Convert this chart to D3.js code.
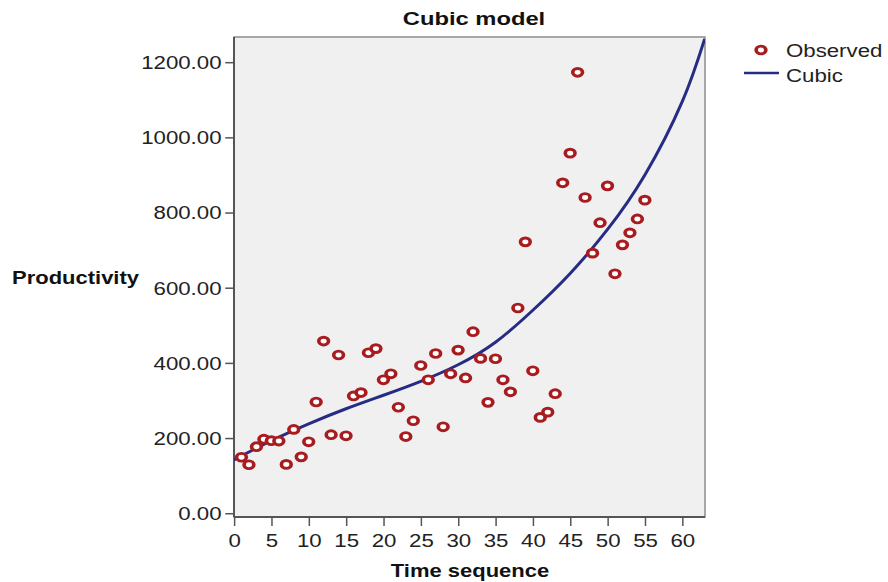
<!DOCTYPE html>
<html><head><meta charset="utf-8">
<script src="https://cdn.jsdelivr.net/npm/d3@7"></script>
<style>html,body{margin:0;padding:0;background:#fff;overflow:hidden;}</style>
</head><body>
<svg id="c" width="888" height="582"></svg>
<script>
// ---- data ----
const time = [1,2,3,4,5,6,7,8,9,10,11,12,13,14,15,16,17,18,19,20,21,22,23,24,25,26,27,28,29,30,31,32,33,34,35,36,37,38,39,40,41,42,43,44,45,46,47,48,49,50,51,52,53,54,55];
const productivity = [149,129,177,197,193,192,130,223,150,190,296,458,209,421,206,312,321,427,438,355,371,282,204,246,393,355,425,230,371,434,360,483,412,295,411,355,323,546,722,379,255,269,318,879,958,1173,840,692,773,871,637,714,746,783,833];
const cubicTime = [0,5,10,15,20,25,30,35,40,45,50,55,60,63];
const cubicValue = [142,193,238,278,314,351,395,455,540,638,755,900,1095,1262];
const yTicks = [0,200,400,600,800,1000,1200];
const xTicks = [0,5,10,15,20,25,30,35,40,45,50,55,60];
const titleText = "Cubic model";
const xLabel = "Time sequence";
const yLabel = "Productivity";
const legendLabels = ["Observed", "Cubic"];

// ---- layout ----
const S = 1.25;               // horizontal stretch of the original picture
const W = 888 / S, H = 582;
const px = v => v / S;
const svg = d3.select('#c').attr('viewBox', `0 0 ${W} ${H}`).attr('preserveAspectRatio', 'none');
const pL = px(234), pR = px(705), pT = 37, pB = 517;
const x = d3.scaleLinear().domain([0, 63.05]).range([pL, pR]);
const y = d3.scaleLinear().domain([-10, 1267]).range([pB, pT]);
const FONT = "'Liberation Sans', Arial, sans-serif";
const red = '#a81c1f', navy = '#262c84';

// plot background
svg.append('rect').attr('x', pL).attr('y', pT).attr('width', pR - pL).attr('height', pB - pT)
  .attr('fill', '#f0f0f0').attr('stroke', '#8c8c8c').attr('stroke-width', 1.5).attr('vector-effect', 'non-scaling-stroke');

// axes
const yAxis = d3.axisLeft(y).tickValues(yTicks).tickFormat(d3.format('.2f')).tickSize(7).tickSizeOuter(0).tickPadding(3);
const gy = svg.append('g').attr('transform', `translate(${pL},0)`).call(yAxis);
gy.select('.domain').attr('d', `M0,${pT}V${pB}`).attr('stroke', '#555').attr('stroke-width', 2).attr('vector-effect', 'non-scaling-stroke');
gy.selectAll('.tick line').attr('stroke', '#555').attr('stroke-width', 1.5).attr('vector-effect', 'non-scaling-stroke');
gy.selectAll('.tick text').attr('font-family', FONT).attr('font-size', 17.8).attr('fill', '#222').attr('dy', '0.36em');

const xAxis = d3.axisBottom(x).tickValues(xTicks).tickFormat(d3.format('d')).tickSize(9).tickSizeOuter(0).tickPadding(8);
const gx = svg.append('g').attr('transform', `translate(0,${pB})`).call(xAxis);
gx.select('.domain').attr('d', `M${pL},0H${pR}`).attr('stroke', '#555').attr('stroke-width', 2).attr('vector-effect', 'non-scaling-stroke');
gx.selectAll('.tick line').attr('stroke', '#555').attr('stroke-width', 1.5).attr('vector-effect', 'non-scaling-stroke');
gx.selectAll('.tick text').attr('font-family', FONT).attr('font-size', 17.8).attr('fill', '#222');

// clip
svg.append('clipPath').attr('id', 'clip').append('rect')
  .attr('x', pL).attr('y', pT).attr('width', pR - pL).attr('height', pB - pT);

// cubic curve
const curvePts = cubicTime.map((t, i) => [t, cubicValue[i]]);
svg.append('path').attr('clip-path', 'url(#clip)')
  .attr('d', d3.line().x(d => x(d[0])).y(d => y(d[1])).curve(d3.curveNatural)(curvePts))
  .attr('fill', 'none').attr('stroke', navy).attr('stroke-width', 3).attr('vector-effect', 'non-scaling-stroke');

// observed points
svg.append('g').selectAll('circle').data(time.map((t, i) => [t, productivity[i]])).join('circle')
  .attr('cx', d => x(d[0])).attr('cy', d => y(d[1])).attr('r', 3.9)
  .attr('fill', '#fff').attr('stroke', red).attr('stroke-width', 2.9);

// titles
svg.append('text').attr('x', px(474)).attr('y', 25).attr('text-anchor', 'middle')
  .attr('font-family', FONT).attr('font-weight', 'bold').attr('font-size', 19).attr('fill', '#111').text(titleText);
svg.append('text').attr('x', px(12)).attr('y', 284).attr('text-anchor', 'start')
  .attr('font-family', FONT).attr('font-weight', 'bold').attr('font-size', 17.6).attr('fill', '#111').text(yLabel);
svg.append('text').attr('x', px(470)).attr('y', 577).attr('text-anchor', 'middle')
  .attr('font-family', FONT).attr('font-weight', 'bold').attr('font-size', 17.6).attr('fill', '#111').text(xLabel);

// legend
const lg = svg.append('g');
lg.append('circle').attr('cx', px(761)).attr('cy', 50).attr('r', 3.9).attr('fill', '#fff').attr('stroke', red).attr('stroke-width', 2.9);
lg.append('line').attr('x1', px(744)).attr('x2', px(779)).attr('y1', 73).attr('y2', 73)
  .attr('stroke', navy).attr('stroke-width', 2.5).attr('vector-effect', 'non-scaling-stroke');
lg.selectAll('text').data(legendLabels).join('text')
  .attr('x', px(786)).attr('y', (d, i) => 57.5 + i * 25)
  .attr('font-family', FONT).attr('font-size', 17.8).attr('fill', '#222').text(d => d);
</script>
</body></html>
